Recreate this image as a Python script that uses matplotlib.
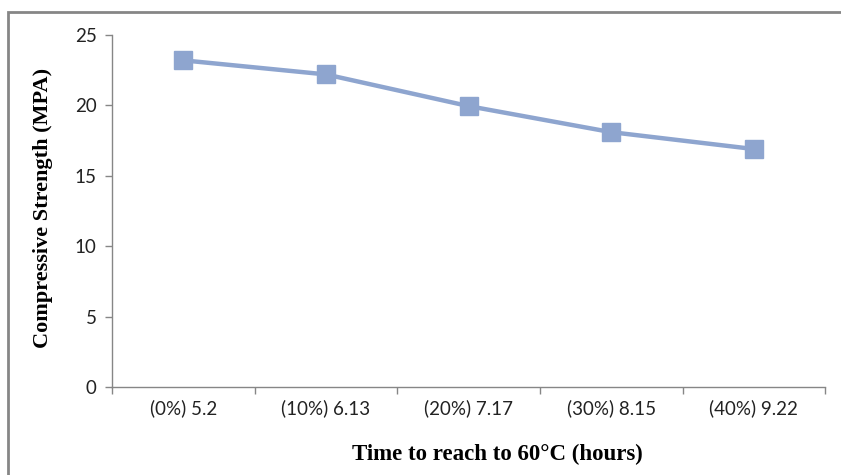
import matplotlib.pyplot as plt
from matplotlib.patches import Rectangle

# compressive strength against time taken to reach 60°C
categories = ["(0%) 5.2", "(10%) 6.13", "(20%) 7.17", "(30%) 8.15", "(40%) 9.22"]
strength = [23.2, 22.2, 19.95, 18.1, 16.9]
yticks = [0, 5, 10, 15, 20, 25]

line_color = "#8EA5CF"
axis_color = "#868686"

fig = plt.figure(figsize=(8.41, 4.75), dpi=100)
ax = fig.add_axes([0.1332, 0.1853, 0.848, 0.741])

x = list(range(len(categories)))
ax.plot(x, strength, color=line_color, linewidth=3.2, marker="s",
        markersize=13, markerfacecolor=line_color, markeredgecolor=line_color,
        solid_capstyle="round")

ax.set_xlim(-0.5, len(categories) - 0.5)
ax.set_ylim(0, 25)
ax.set_yticks(yticks)
ax.set_yticklabels([str(v) for v in yticks], fontfamily="Lato", fontsize=13.5, color="#222222")

# category labels centred, ticks on category boundaries
ax.set_xticks([i - 0.5 for i in range(len(categories) + 1)])
ax.set_xticklabels([])
ax.set_xticks(x, minor=True)
ax.set_xticklabels(categories, minor=True, fontfamily="Lato", fontsize=13.5, color="#222222")
ax.tick_params(axis="x", which="minor", length=0, pad=9)
ax.tick_params(axis="both", which="major", direction="out", length=5,
               width=1, color=axis_color)
ax.tick_params(axis="y", pad=6)

for side in ["top", "right"]:
    ax.spines[side].set_visible(False)
for side in ["left", "bottom"]:
    ax.spines[side].set_color(axis_color)
    ax.spines[side].set_linewidth(1)

ax.set_xlabel("Time to reach to 60°C (hours)", fontfamily="Liberation Serif",
              fontweight="bold", fontsize=16.5)
ax.xaxis.set_label_coords(0.54, -0.162)
ax.set_ylabel("Compressive Strength (MPA)", fontfamily="Liberation Serif",
              fontweight="bold", fontsize=16)
ax.yaxis.set_label_coords(-0.083, 0.508)

# chart area border
fig.patches.append(Rectangle((8 / 841, -0.1), 1.2, 1.1 - 12 / 475,
                             transform=fig.transFigure, fill=False,
                             edgecolor=axis_color, linewidth=2))

fig.savefig("out.png", dpi=100)
